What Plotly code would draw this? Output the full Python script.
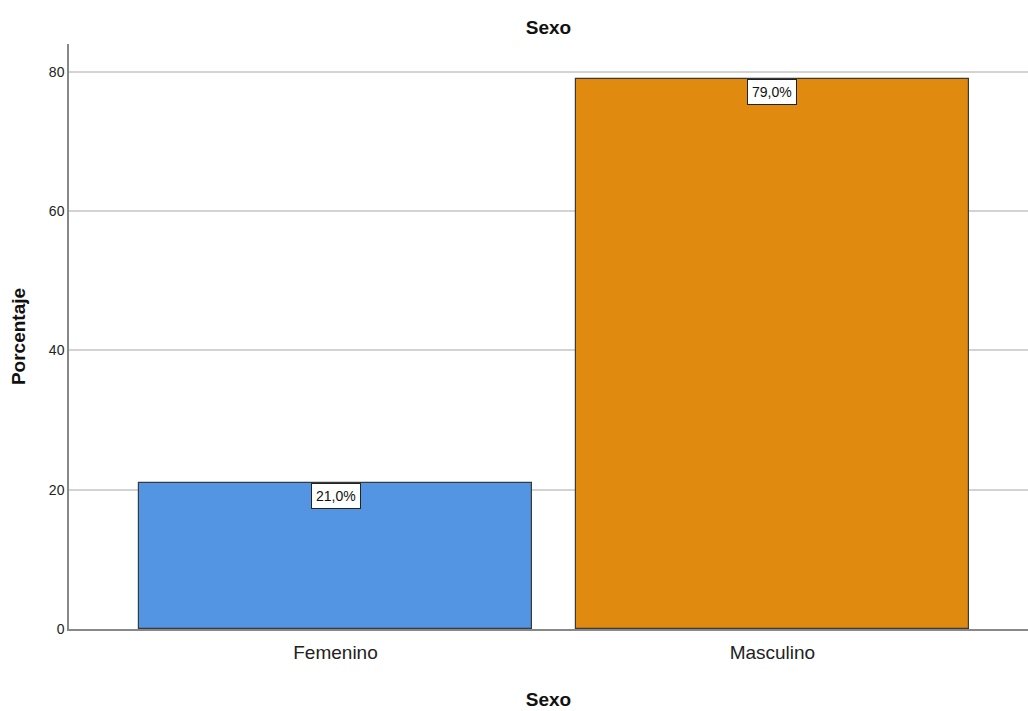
import plotly.graph_objects as go

categories = ["Femenino", "Masculino"]
percentages = [21.0, 79.0]
value_labels = ["21,0%", "79,0%"]
bar_colors = ["#5394E3", "#E08A10"]
y_ticks = [0, 20, 40, 60, 80]

x_pos = list(range(len(categories)))

BODY_FONT = "Liberation Sans Narrow, Arial Narrow, Liberation Sans, Arial, sans-serif"
TITLE_FONT = "Liberation Sans, Arial, sans-serif"

fig = go.Figure()
fig.add_trace(go.Bar(
    x=x_pos,
    y=percentages,
    width=0.9,
    marker=dict(color=bar_colors, line=dict(color="#3a3a3a", width=1.2)),
    hoverinfo="skip",
))

for xp, val, lab in zip(x_pos, percentages, value_labels):
    fig.add_annotation(
        x=xp, y=val, text=lab, showarrow=False,
        yanchor="top", xanchor="center",
        bgcolor="white", bordercolor="#222222", borderwidth=1, borderpad=4,
        font=dict(family=BODY_FONT, size=14, color="#111111"),
    )

fig.update_layout(
    width=1028, height=711,
    margin=dict(l=69, r=0, t=44, b=82),
    paper_bgcolor="white", plot_bgcolor="white",
    showlegend=False,
    bargap=0,
    title=dict(text="<b>Sexo</b>", x=0.5335, xanchor="center", y=0.962, yanchor="middle",
               font=dict(family=TITLE_FONT, size=19, color="#111111")),
    xaxis=dict(
        range=[-0.61, 1.585],
        tickmode="array", tickvals=x_pos, ticktext=categories,
        showgrid=False, zeroline=False,
        showline=True, linecolor="#888888", linewidth=1.5,
        ticks="", ticklen=0, ticklabelstandoff=5,
        tickfont=dict(family=BODY_FONT, size=19, color="#222222"),
        title=dict(text="<b>Sexo</b>", standoff=31,
                   font=dict(family=TITLE_FONT, size=19, color="#111111")),
        fixedrange=True,
    ),
    yaxis=dict(
        range=[0, 84],
        tickmode="array", tickvals=y_ticks, ticktext=[str(t) for t in y_ticks],
        showgrid=True, gridcolor="#d3d3d3", gridwidth=1.6,
        zeroline=False,
        showline=True, linecolor="#888888", linewidth=1.5,
        ticks="", ticklen=0,
        tickfont=dict(family=BODY_FONT, size=14, color="#222222"),
        title=dict(text="<b>Porcentaje</b>", standoff=18,
                   font=dict(family=TITLE_FONT, size=19, color="#111111")),
        fixedrange=True,
    ),
)

fig.write_html("out.html")
